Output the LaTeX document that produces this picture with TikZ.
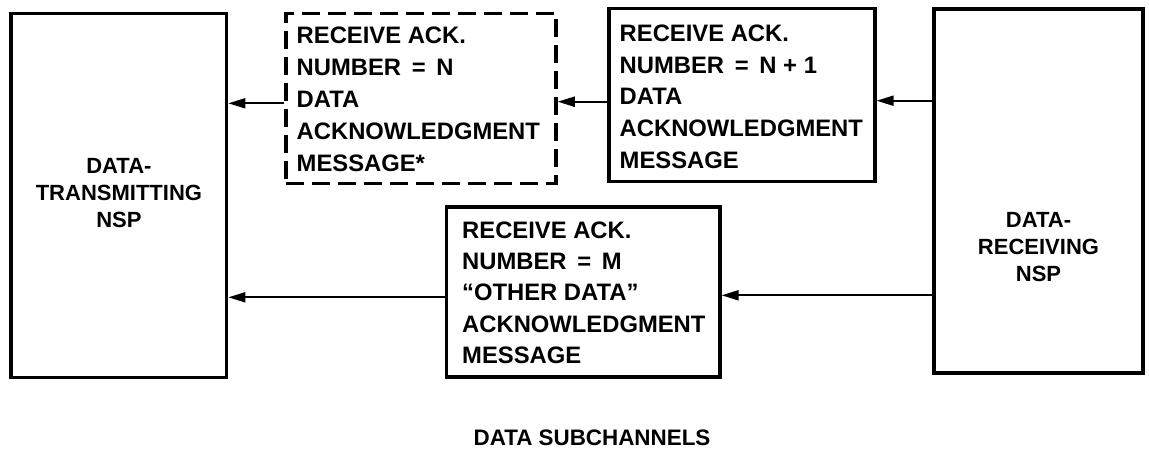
\documentclass[tikz,border=0pt]{standalone}
\usepackage{fontspec}
\setmainfont{Liberation Sans}
\usetikzlibrary{arrows.meta}
\begin{document}
\begin{tikzpicture}[x=1pt,y=-1pt,
  frame/.style={draw, line width=3.2pt, inner sep=0pt, rectangle},
  dframe/.style={draw, line width=3.5pt, dash pattern=on 18pt off 8pt, inner sep=0pt, rectangle},
  msg/.style={anchor=north west, inner sep=0pt, align=left, font=\bfseries\fontsize{23.8}{32}\selectfont},
  nsp/.style={inner sep=0pt, align=center, font=\bfseries\fontsize{22}{27}\selectfont},
  arr/.style={line width=2pt, -{Triangle[length=17pt,width=10pt]}}
]
\useasboundingbox (0,0) rectangle (1149,458);

% frames
\node[frame, minimum width=215.7pt, minimum height=364.2pt] (tx) at (118.9,195.4) {};
\node[dframe, minimum width=270pt, minimum height=170pt] (dash) at (421,98.3) {};
\node[frame, minimum width=266pt, minimum height=173.4pt] (nplus) at (742,95) {};
\node[frame, minimum width=209pt, minimum height=364pt] (rx) at (1038.5,191) {};
\node[frame, minimum width=273.3pt, minimum height=170pt] (other) at (583.4,292) {};

% texts
\node[nsp] (txt) at (118.9,193) {DATA-\\TRANSMITTING\\NSP};
\node[nsp] (rxt) at (1038.5,247) {DATA-\\RECEIVING\\NSP};
\node[msg] (dasht) at (296.5,26.5) {RECEIVE ACK.\\NUMBER\hspace{0.45em}=\hspace{0.45em}N\\DATA\\ACKNOWLEDGMENT\\MESSAGE*};
\node[msg, font=\bfseries\fontsize{23.8}{31.8}\selectfont] (nplust) at (619.5,24.5) {RECEIVE ACK.\\NUMBER\hspace{0.45em}=\hspace{0.45em}N + 1\\DATA\\ACKNOWLEDGMENT\\MESSAGE};
\node[msg, font=\bfseries\fontsize{23.8}{31.3}\selectfont] (othert) at (462,221.5) {RECEIVE ACK.\\NUMBER\hspace{0.45em}=\hspace{0.45em}M\\“OTHER DATA”\\ACKNOWLEDGMENT\\MESSAGE};

\node[font=\bfseries\fontsize{22.4}{26}\selectfont, inner sep=0pt] (cap) at (592,437.5) {DATA SUBCHANNELS};

% connectors
\draw[arr] (dash.west |- 0,103.3) -- (tx.east |- 0,103.3);
\draw[arr] (nplus.west |- 0,101.7) -- (dash.east |- 0,101.7);
\draw[arr] (rx.west |- 0,100.7) -- (nplus.east |- 0,100.7);
\draw[arr] (other.west |- 0,297.3) -- (tx.east |- 0,297.3);
\draw[arr] (rx.west |- 0,295.3) -- (other.east |- 0,295.3);
\end{tikzpicture}
\end{document}
